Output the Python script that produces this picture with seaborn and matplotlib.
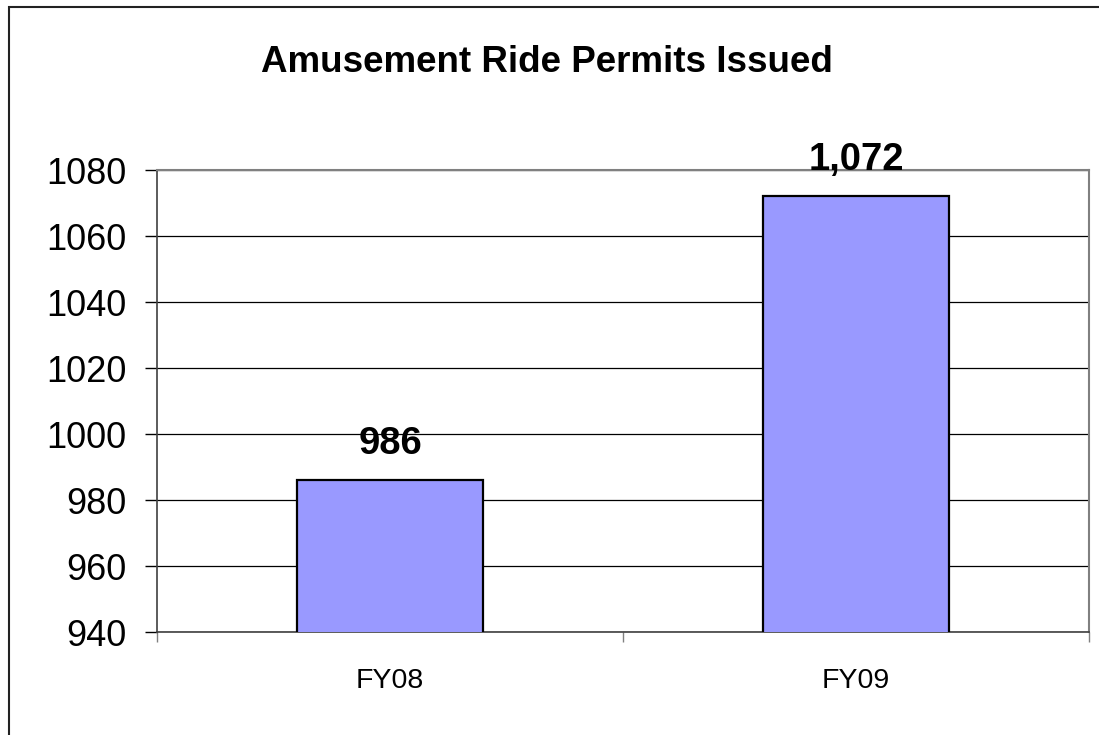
import matplotlib
matplotlib.use("Agg")
import matplotlib.pyplot as plt
import seaborn as sns
import pandas as pd
from matplotlib.patches import Rectangle
from matplotlib.ticker import FixedLocator

# dados do grafico
anos = ["FY08", "FY09"]
licencas = [986, 1072]
rotulos = ["986", "1,072"]
y_ticks = [940, 960, 980, 1000, 1020, 1040, 1060, 1080]

sns.set_style("white")
plt.rcParams["font.family"] = ["Liberation Sans", "DejaVu Sans"]
plt.rcParams["text.color"] = "black"
plt.rcParams["xtick.labelcolor"] = "black"
plt.rcParams["ytick.labelcolor"] = "black"

df = pd.DataFrame({"Ano": anos, "Licencas": licencas})

fig = plt.figure(figsize=(10.99, 7.35), dpi=100)
ax = fig.add_axes([157 / 1099, 1 - 632 / 735, (1089 - 157) / 1099, (632 - 170) / 735])

sns.barplot(data=df, x="Ano", y="Licencas", color="#9999FF", width=0.4,
            edgecolor="black", linewidth=1.6, saturation=1, ax=ax, zorder=3)

ax.set_ylim(940, 1080)
ax.set_xlim(-0.5, 1.5)
ax.set_yticks(y_ticks)
ax.yaxis.grid(True, color="black", linewidth=0.9, zorder=0)
ax.set_axisbelow(True)
ax.set_xlabel("")
ax.set_ylabel("")

ax.bar_label(ax.containers[0], labels=rotulos, padding=13,
             fontsize=27.5, fontweight="bold", color="black")

ax.tick_params(axis="y", direction="out", length=9, width=1, color="black",
               labelsize=26, labelcolor="black", pad=13, left=True)
ax.tick_params(axis="x", which="major", length=0, labelsize=20.5,
               labelcolor="black", pad=26)
ax.xaxis.set_minor_locator(FixedLocator([-0.5, 0.5, 1.5]))
ax.tick_params(axis="x", which="minor", direction="out", length=7, width=1,
               color="#808080", bottom=True)

for lado in ["left", "bottom"]:
    ax.spines[lado].set_color("#404040")
    ax.spines[lado].set_linewidth(1.2)
for lado in ["top", "right"]:
    ax.spines[lado].set_visible(True)
    ax.spines[lado].set_color("#808080")
    ax.spines[lado].set_linewidth(1.5)

fig.text(547 / 1099, 1 - 62 / 735, "Amusement Ride Permits Issued",
         ha="center", va="center", fontsize=26.5, fontweight="bold",
         color="black")

# moldura externa
fig.patches.append(Rectangle((9 / 1099, -0.1), 1.2, 1 - 7 / 735 + 0.1,
                             transform=fig.transFigure, fill=False,
                             edgecolor="#222222", linewidth=1.5))

fig.savefig("out.png", dpi=100)
